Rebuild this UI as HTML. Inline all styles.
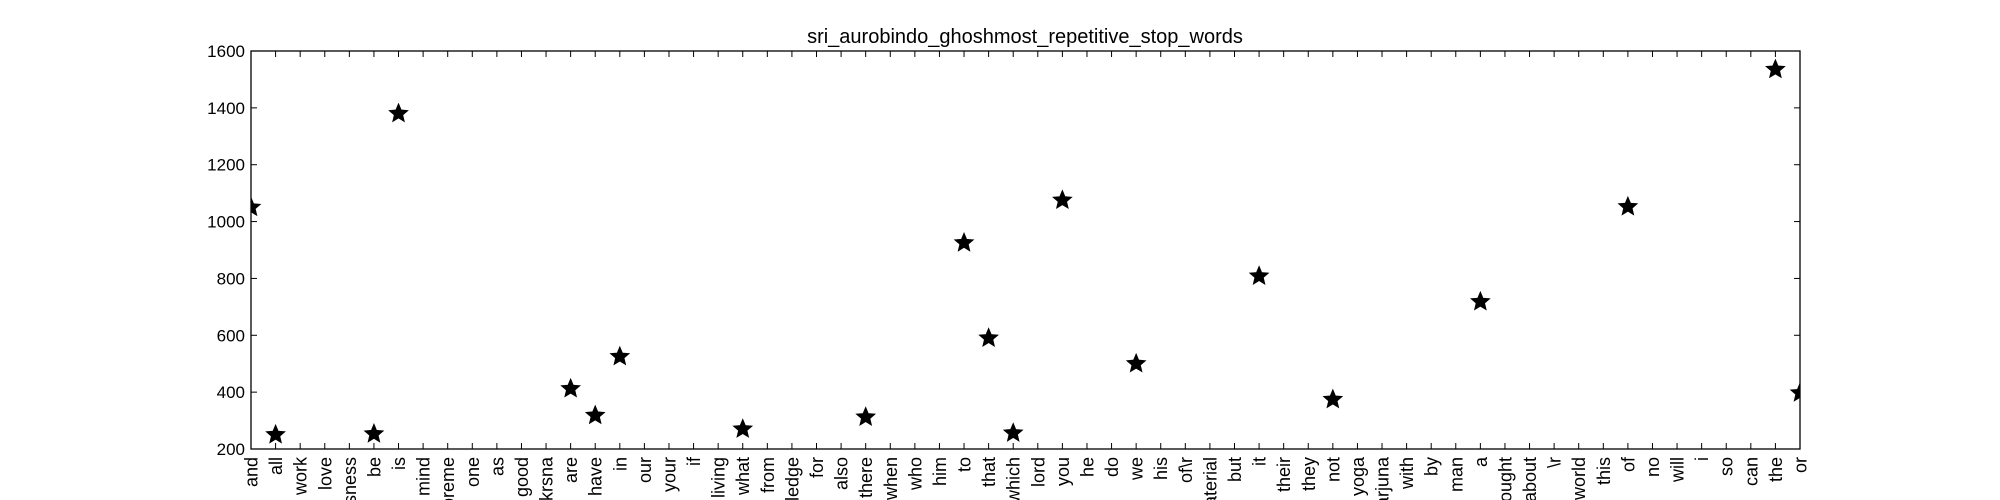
<!DOCTYPE html>
<html><head><meta charset="utf-8"><style>
html,body{margin:0;padding:0;background:#fff;width:2000px;height:500px;overflow:hidden;}
svg{display:block;font-family:"Liberation Sans",sans-serif;}
</style></head><body>
<svg id="chart" width="2000" height="500" viewBox="0 0 2000 500" overflow="hidden">
<defs>
<clipPath id="pc"><rect x="251" y="51" width="1549" height="398"/></clipPath>
<clipPath id="fc"><rect x="0" y="0" width="2000" height="500"/></clipPath>
</defs>
<rect x="0" y="0" width="2000" height="500" fill="#fff"/>
<text x="1025" y="43" font-size="20" text-anchor="middle">sri_aurobindo_ghoshmost_repetitive_stop_words</text>
<g id="yaxis"></g>
<g id="xaxis" clip-path="url(#fc)"></g>
<g id="marks" clip-path="url(#pc)"></g>
<rect x="251" y="51" width="1549" height="398" fill="none" stroke="#000" stroke-width="1.3"/>
</svg>
<script>
const categories = ["and","all","work","love","consciousness","be","is","mind","supreme","one","as","good","krsna","are","have","in","our","your","if","living","what","from","knowledge","for","also","there","when","who","him","to","that","which","lord","you","he","do","we","his","of\\r","material","but","it","their","they","not","yoga","arjuna","with","by","man","a","thought","about","\\r","world","this","of","no","will","i","so","can","the","or"];
const counts = [1050,250,150,150,150,253,1380,150,150,150,150,150,150,412,318,525,150,150,150,150,270,150,150,150,150,312,150,150,150,925,590,256,150,1075,150,150,500,150,150,150,150,808,150,150,374,150,150,150,150,150,718,150,150,150,150,150,1052,150,150,150,150,150,1535,397];
const yTicks = [200,400,600,800,1000,1200,1400,1600];
const yMin = 200, yMax = 1600;
const L=251,R=1800,T=51,B=449;
const NS="http://www.w3.org/2000/svg";
function xs(i){return L+(R-L)*i/(categories.length-1);}
function ys(v){return B-(B-T)*(v-yMin)/(yMax-yMin);}
function mk(tag,attrs,parent){const e=document.createElementNS(NS,tag);for(const k in attrs)e.setAttribute(k,attrs[k]);parent.appendChild(e);return e;}
const ya=document.getElementById('yaxis'),xa=document.getElementById('xaxis'),mg=document.getElementById('marks');
yTicks.forEach(v=>{
  const y=ys(v);
  const l1=mk('line',{x1:L,x2:L+6,y1:y,y2:y,stroke:'#000','stroke-width':1},ya);
  
  
  const l2=mk('line',{x1:R-6,x2:R,y1:y,y2:y,stroke:'#000','stroke-width':1},ya);
  
  
  const t=mk('text',{x:L-6,y:y+6,'font-size':17,'text-anchor':'end'},ya);
  t.textContent=v;
  
  
});
categories.forEach((c,i)=>{
  const x=xs(i);
  const a=mk('line',{x1:x,x2:x,y1:B,y2:B-6,stroke:'#000','stroke-width':1},xa);
  
  
  const b=mk('line',{x1:x,x2:x,y1:T,y2:T+6,stroke:'#000','stroke-width':1},xa);
  
  
  const t=mk('text',{x:0,y:0,'font-size':18,'text-anchor':'end',transform:`translate(${x+6.5},457) rotate(-90)`},xa);
  t.textContent=c;
  
  
});
function starPath(cx,cy,r){let d='';for(let k=0;k<10;k++){const rr=k%2?r*0.45:r;const a=-Math.PI/2+k*Math.PI/5;d+=(k?'L':'M')+(cx+rr*Math.cos(a)).toFixed(2)+' '+(cy+rr*Math.sin(a)).toFixed(2);}return d+'Z';}
counts.forEach((v,i)=>{
  const p=mk('path',{d:starPath(xs(i),ys(v),7.5),fill:'#000',stroke:'#000','stroke-width':2.6,'stroke-linejoin':'miter'},mg);
  
  
});
</script>
</body></html>
